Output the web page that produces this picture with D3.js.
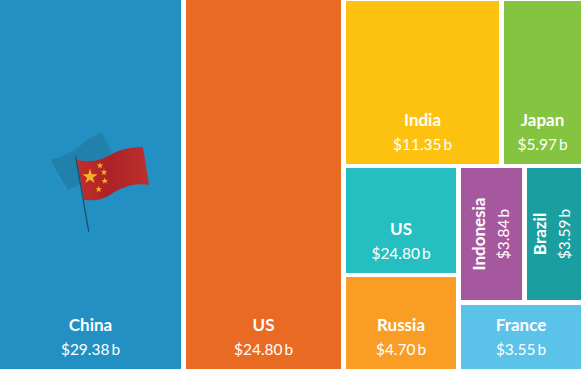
<!DOCTYPE html>
<html>
<head>
<meta charset="utf-8">
<script src="https://cdn.jsdelivr.net/npm/d3@7"></script>
<style>
  html, body { margin: 0; padding: 0; background: #fff; overflow: hidden; }
  text { font-family: Lato, sans-serif; fill: #fff; text-anchor: middle; }
  .name { font-size: 17px; font-weight: 700; }
  .amount { font-size: 15.5px; font-weight: 400; }
</style>
</head>
<body>
<div id="chart"></div>
<script>
const names = ['China', 'US', 'India', 'Japan', 'US', 'Russia', 'Indonesia', 'Brazil', 'France'];
// printed labels, $ billions
const amounts = [29.38, 24.80, 11.35, 5.97, 24.80, 4.70, 3.84, 3.59, 3.55];
// tile sizes (they differ a bit from the printed labels)
const sizes = [29.38, 25.27, 11.20, 5.81, 5.32, 4.69, 3.82, 3.42, 3.64];
const colors = ['#2390c3', '#e96a23', '#fdc210', '#84c441', '#25bfc1', '#f99d25', '#a6589f', '#1a9e9f', '#5bc2e9'];

const width = 581;
const height = 369;

const leaf = i => ({ i: i, value: sizes[i] });

// nesting of the tiles; dir says which way the children are cut
const tree = { dir: 'x', gap: 5, children: [
  leaf(0),
  leaf(1),
  { dir: 'y', gap: 4, top: 1, children: [
    { dir: 'x', gap: 5, children: [leaf(2), leaf(3)] },
    { dir: 'x', gap: 5, children: [
      { dir: 'y', gap: 4, children: [leaf(4), leaf(5)] },
      { dir: 'y', gap: 5, children: [
        { dir: 'x', gap: 5, children: [leaf(6), leaf(7)] },
        leaf(8)
      ] }
    ] }
  ] }
] };

const root = d3.hierarchy(tree).sum(d => d.value || 0);

d3.treemap()
  .size([width, height])
  .paddingInner(d => d.data.gap)
  .paddingTop(d => d.data.top || 0)
  .tile((node, x0, y0, x1, y1) => {
    if (node.data.dir === 'x') d3.treemapDice(node, x0, y0, x1, y1);
    else d3.treemapSlice(node, x0, y0, x1, y1);
  })(root);

const svg = d3.select('#chart')
  .append('svg')
  .attr('width', width)
  .attr('height', height)
  .style('display', 'block');

const cells = svg.selectAll('.cell')
  .data(root.leaves())
  .enter()
  .append('g')
  .attr('class', 'cell');

cells.append('rect')
  .attr('x', d => Math.round(d.x0))
  .attr('y', d => Math.round(d.y0))
  .attr('width', d => Math.round(d.x1) - Math.round(d.x0))
  .attr('height', d => Math.round(d.y1) - Math.round(d.y0))
  .style('fill', d => colors[d.data.i]);

const money = d => '$' + d3.format('.2f')(d) + '\u2009b';

// narrow tiles get their labels turned on the side
const upright = d => (d.x1 - d.x0) > 70;

const flat = cells.filter(upright);
flat.append('text')
  .attr('class', 'name')
  .attr('x', d => (d.x0 + d.x1) / 2)
  .attr('y', d => d.y1 - 38)
  .text(d => names[d.data.i]);
flat.append('text')
  .attr('class', 'amount')
  .attr('x', d => (d.x0 + d.x1) / 2)
  .attr('y', d => d.y1 - 14)
  .text(d => money(amounts[d.data.i]));

// the narrower tile has its two lines a little to the left
const turned = cells.filter(d => !upright(d))
  .append('g')
  .attr('transform', d => `translate(${(d.x0 + d.x1) / 2 + (d.x1 - d.x0 - 61) * 0.25},${(d.y0 + d.y1) / 2}) rotate(-90)`);
turned.append('text')
  .attr('class', 'name')
  .attr('y', -6.5)
  .text(d => names[d.data.i]);
turned.append('text')
  .attr('class', 'amount')
  .attr('y', 18)
  .text(d => money(amounts[d.data.i]));

// flag in the China tile
const defs = svg.append('defs');
const grad = defs.append('linearGradient').attr('id', 'flagRed');
grad.append('stop').attr('offset', '0%').attr('stop-color', '#c22f2b');
grad.append('stop').attr('offset', '45%').attr('stop-color', '#ad2226');
grad.append('stop').attr('offset', '100%').attr('stop-color', '#bd302e');

const flag = svg.append('g').attr('class', 'flag');

flag.append('path')
  .attr('d', 'M50,160 C62,157 72,152 80,146 C88,139 94,135 101.7,132.7 L112,152 L90,180 L68,190 Z')
  .style('fill', '#2280ac');
flag.append('path')
  .attr('d', 'M50,160 L88,231')
  .style('stroke', '#3a8fb8')
  .style('stroke-width', 0.8)
  .style('fill', 'none');
flag.append('path')
  .attr('d', 'M77,160 C86,162 98,162 108,156 C118,150 130,147 143,147 L149,185 C138,183 124,185 110,195 C102,200 92,201 84,200 Z')
  .style('fill', 'url(#flagRed)');
flag.append('path')
  .attr('d', 'M75.7,156.7 L88.7,231.7')
  .style('stroke', '#1d4a66')
  .style('stroke-width', 1.2)
  .style('fill', 'none');

const stars = [[90, 176.7, 70], [100, 165.7, 14], [104, 172.3, 14], [104.7, 181, 14], [98.7, 189.3, 14]];
flag.selectAll('.star')
  .data(stars)
  .enter()
  .append('path')
  .attr('class', 'star')
  .attr('d', d => d3.symbol(d3.symbolStar, d[2])())
  .attr('transform', d => `translate(${d[0]},${d[1]})`)
  .style('fill', '#f5b427');
</script>
</body>
</html>
